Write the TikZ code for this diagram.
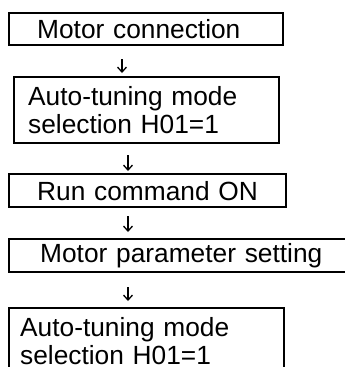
\documentclass[tikz,border=0pt]{standalone}
\usepackage{fontspec}
\setmainfont{Liberation Sans}
\usetikzlibrary{arrows.meta}

\begin{document}
\begin{tikzpicture}[x=1pt, y=-1pt,
  stepbox/.style={draw, line width=2.4pt, anchor=north west, align=left,
                  inner ysep=0pt, font=\fontsize{26.3}{28}\selectfont},
  arr/.style={-{Straight Barb[length=5pt,width=9pt]}, line width=1.3pt}
]
% the scan is cut off on the right and at the bottom, so clip to it
\clip (0,0) rectangle (345,367);

% boxes on fixed coordinates: north west corner, text indent = inner xsep
\node[stepbox, text width=218pt, inner xsep=28pt, minimum height=32pt] (conn)  at (8,12)  {Motor connection};
\node[stepbox, text width=237pt, inner xsep=14pt, minimum height=66pt] (tune1) at (13,76) {Auto-tuning mode\\selection H01=1};
\node[stepbox, text width=229pt, inner xsep=24pt, minimum height=33pt] (run)   at (8,173) {\hspace*{4pt}Run command ON};
\node[stepbox, text width=298pt, inner xsep=31pt, minimum height=33pt] (param) at (8,238) {Motor parameter setting};
\node[stepbox, text width=253pt, inner xsep=11pt, minimum height=66pt] (tune2) at (8,307) {Auto-tuning mode\\selection H01=1};

% short arrows, not quite under the box centres
\coordinate (colA) at (122,0);
\coordinate (colB) at (128,0);
\draw[arr, shorten <=13pt, shorten >=3pt] (conn.south -| colA)  -- (tune1.north -| colA);
\draw[arr, shorten <=11pt, shorten >=2pt] (tune1.south -| colB) -- (run.north -| colB);
\draw[arr, shorten <=8pt,  shorten >=6pt] (run.south -| colB)   -- (param.north -| colB);
\draw[arr, shorten <=14pt, shorten >=6pt] (param.south -| colB) -- (tune2.north -| colB);
\end{tikzpicture}
\end{document}
